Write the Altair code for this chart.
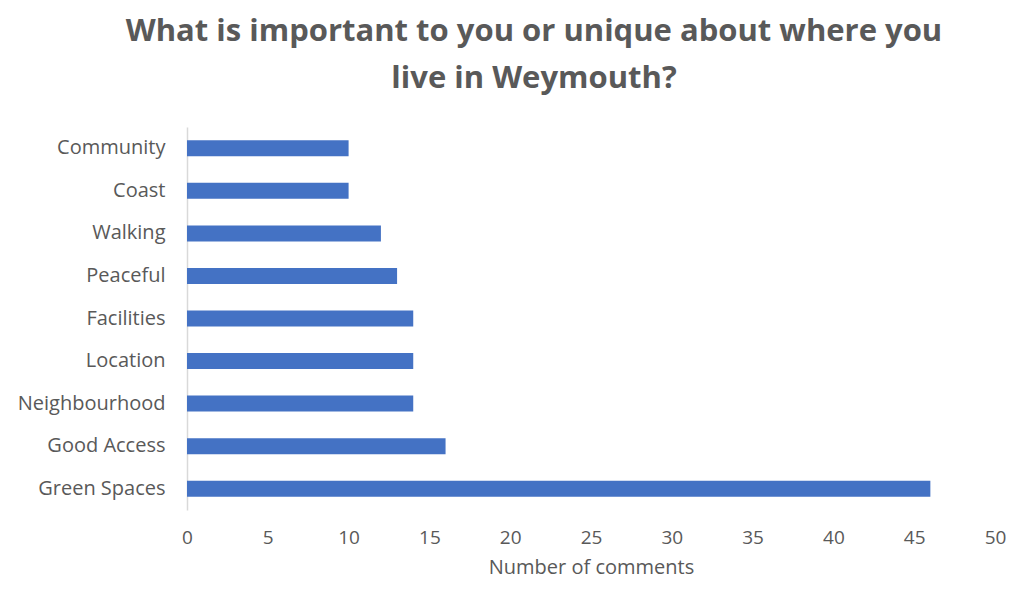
import altair as alt
import pandas as pd

categories = ["Community", "Coast", "Walking", "Peaceful", "Facilities",
              "Location", "Neighbourhood", "Good Access", "Green Spaces"]
values = [10, 10, 12, 13, 14, 14, 14, 16, 46]
x_ticks = [0, 5, 10, 15, 20, 25, 30, 35, 40, 45, 50]

df = pd.DataFrame({"category": categories, "comments": values})

FONT = "Open Sans"
GRAY = "#595959"

chart = alt.Chart(df).mark_bar(color="#4472C4", size=16).encode(
    x=alt.X("comments:Q",
            scale=alt.Scale(domain=[0, 50], nice=False),
            axis=alt.Axis(values=x_ticks, title="Number of comments",
                          grid=False, domain=False, ticks=False,
                          labelFlush=False,
                          labelFontSize=19, labelColor=GRAY, labelFont=FONT,
                          labelPadding=18, titleFontSize=20, titleColor=GRAY,
                          titleFont=FONT, titleFontWeight="normal",
                          titlePadding=10)),
    y=alt.Y("category:N", sort=categories,
            scale=alt.Scale(paddingInner=0.6, paddingOuter=0.3),
            axis=alt.Axis(title=None, grid=False, ticks=False, domain=True,
                          domainColor="#d9d9d9", domainWidth=1.5,
                          labelFontSize=20, labelColor=GRAY, labelFont=FONT,
                          labelPadding=22)),
).properties(
    width=808,
    height=383,
    title=alt.TitleParams(
        text=["What is important to you or unique about where you",
              "live in Weymouth?"],
        fontSize=31, font=FONT, fontWeight="bold", color=GRAY,
        anchor="middle", lineHeight=47, dx=-57, offset=32,
    ),
    autosize=alt.AutoSizeParams(type="none"),
    padding={"left": 179, "top": 119, "right": 11, "bottom": 68},
).configure_view(stroke=None)

chart.save("out.html", embed_options={"renderer": "svg", "actions": False})
